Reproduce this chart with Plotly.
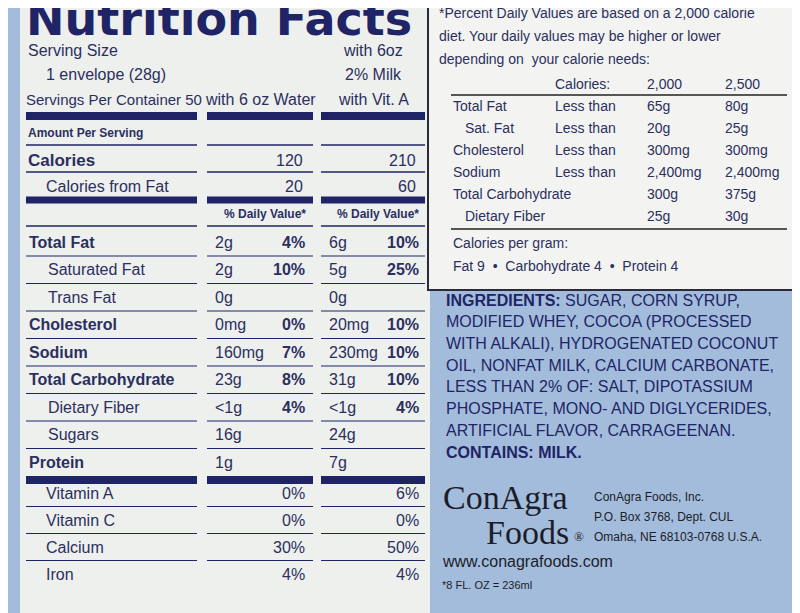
import plotly.graph_objects as go

NAVY = "#1f2466"
TXT = "#2b2f5e"
BG = "#a3bcdb"
PANEL = "#eef0ee"

# ---- data ----
nutrients = ["Total Fat", "Saturated Fat", "Trans Fat", "Cholesterol", "Sodium",
             "Total Carbohydrate", "Dietary Fiber", "Sugars", "Protein"]
nutrient_bold = [True, False, False, True, True, True, False, False, True]
nutrient_indent = [False, True, True, False, False, False, True, True, False]
water_amount = ["2g", "2g", "0g", "0mg", "160mg", "23g", "<1g", "16g", "1g"]
water_dv = ["4%", "10%", "", "0%", "7%", "8%", "4%", "", ""]
milk_amount = ["6g", "5g", "0g", "20mg", "230mg", "31g", "<1g", "24g", "7g"]
milk_dv = ["10%", "25%", "", "10%", "10%", "10%", "4%", "", ""]
vitamins = ["Vitamin A", "Vitamin C", "Calcium", "Iron"]
water_vit = ["0%", "0%", "30%", "4%"]
milk_vit = ["6%", "0%", "50%", "4%"]
calories = [120, 210]
calories_fat = [20, 60]

dv_labels = ["Total Fat", "Sat. Fat", "Cholesterol", "Sodium", "Total Carbohydrate", "Dietary Fiber"]
dv_indent = [False, True, False, False, False, True]
dv_qual = ["Less than", "Less than", "Less than", "Less than", "", ""]
dv_2000 = ["65g", "20g", "300mg", "2,400mg", "300g", "25g"]
dv_2500 = ["80g", "25g", "300mg", "2,400mg", "375g", "30g"]

ingredients = ["INGREDIENTS: SUGAR, CORN SYRUP,", "MODIFIED WHEY, COCOA (PROCESSED",
               "WITH ALKALI), HYDROGENATED COCONUT", "OIL, NONFAT MILK, CALCIUM CARBONATE,",
               "LESS THAN 2% OF: SALT, DIPOTASSIUM", "PHOSPHATE, MONO- AND DIGLYCERIDES,",
               "ARTIFICIAL FLAVOR, CARRAGEENAN."]

fig = go.Figure()
shapes, ann = [], []
F = "Liberation Sans, Arial, sans-serif"

def t(x, y, s, size=16, bold=False, anchor="left", color=TXT, font=F):
    if not s:
        return
    if bold:
        s = "<b>" + s + "</b>"
    ann.append(dict(x=x, y=y, text=s, showarrow=False, xanchor=anchor, yanchor="middle",
                    font=dict(size=size, color=color, family=font)))

def rect(x0, y0, x1, y1, fill, line=None, w=0):
    shapes.append(dict(type="rect", x0=x0, y0=y0, x1=x1, y1=y1, fillcolor=fill,
                       line=dict(color=line or fill, width=w), layer="below"))

COLS = [(26, 197), (207, 313), (321, 425)]

def hline(y, thick=1.5):
    for a, b in COLS:
        if thick > 3:
            rect(a, y - thick / 2, b, y + thick / 2, NAVY)
        else:
            shapes.append(dict(type="line", x0=a, x1=b, y0=y, y1=y, line=dict(color=NAVY, width=thick)))

S = 16
rect(20, -5, 430, 620, PANEL)
rect(428, -5, 796, 290, "#f3f4f2", "#2a2a3a", 2)

t(24, 19, "Nutrition Facts", 46, True, color=NAVY, font="DejaVu Sans, sans-serif")
t(26, 50, "Serving Size", S)
t(44, 74, "1 envelope (28g)", S)
t(24, 99, "Servings Per Container 50", 15)
t(260, 99, "with 6 oz Water", S, anchor="center")
t(373, 50, "with 6oz", S, anchor="center")
t(373, 74, "2% Milk", S, anchor="center")
t(373, 99, "with Vit. A", S, anchor="center")
hline(116, 8)
t(26, 133, "Amount Per Serving", 12, True)
hline(145, 1.5)
t(26, 160, "Calories", 17, True)
t(305, 160, str(calories[0]), S, anchor="right")
t(418, 160, str(calories[1]), S, anchor="right")
hline(172, 1.5)
t(44, 186, "Calories from Fat", S)
t(305, 186, str(calories_fat[0]), S, anchor="right")
t(418, 186, str(calories_fat[1]), S, anchor="right")
hline(200, 7)
t(308, 214, "% Daily Value*", 12, True, anchor="right")
t(421, 214, "% Daily Value*", 12, True, anchor="right")
hline(226, 1.5)

y0, dy = 242, 27.5
for i, n in enumerate(nutrients):
    y = y0 + i * dy
    t(46 if nutrient_indent[i] else 27, y, n, S, nutrient_bold[i])
    t(213, y, water_amount[i], S)
    t(307, y, water_dv[i], S, True, anchor="right")
    t(327, y, milk_amount[i], S)
    t(421, y, milk_dv[i], S, True, anchor="right")
    if i < len(nutrients) - 1:
        hline(y + 14, 1.2)
hline(480, 8)
for i, v in enumerate(vitamins):
    y = 493 + i * 27
    t(44, y, v, S)
    t(307, y, water_vit[i], S, anchor="right")
    t(421, y, milk_vit[i], S, anchor="right")
    if i < len(vitamins) - 1:
        hline(y + 13.5, 1.2)

R = 14
t(437, 13, "*Percent Daily Values are based on a 2,000 calorie", R)
t(437, 36, "diet. Your daily values may be higher or lower", R)
t(437, 59, "depending on  your calorie needs:", R)
t(553, 84, "Calories:", R)
t(645, 84, "2,000", R)
t(723, 84, "2,500", R)
shapes.append(dict(type="line", x0=451, x1=787, y0=95, y1=95, line=dict(color="#222", width=1.5)))
for i, lab in enumerate(dv_labels):
    y = 106 + i * 22
    t(463 if dv_indent[i] else 451, y, lab, R)
    t(553, y, dv_qual[i], R)
    t(645, y, dv_2000[i], R)
    t(723, y, dv_2500[i], R)
shapes.append(dict(type="line", x0=451, x1=787, y0=229, y1=229, line=dict(color="#222", width=1.5)))
t(451, 243, "Calories per gram:", R)
t(451, 266, "Fat 9  \u2022  Carbohydrate 4  \u2022  Protein 4", R)

IS = 16
for i, line in enumerate(ingredients):
    y = 300 + i * 21.7
    if i == 0:
        t(444, y, "<b>INGREDIENTS:</b> SUGAR, CORN SYRUP,", IS, color=NAVY)
    else:
        t(444, y, line, IS, color=NAVY)
t(444, 452, "CONTAINS: MILK.", IS, True, color=NAVY)

SER = "Liberation Serif, Times New Roman, serif"
t(441, 497, "ConAgra", 34, font=SER, color="#1c1c2a")
t(484, 532, "Foods", 34, font=SER, color="#1c1c2a")
t(572, 536, "®", 13, font=SER, color="#1c1c2a")
t(592, 497, "ConAgra Foods, Inc.", 12, color="#1c1c2a")
t(592, 517, "P.O. Box 3768, Dept. CUL", 12, color="#1c1c2a")
t(592, 537, "Omaha, NE 68103-0768 U.S.A.", 12, color="#1c1c2a")
t(440, 561, "www.conagrafoods.com", 16, color="#1c1c2a")
t(440, 585, "*8 FL. OZ = 236ml", 11, color="#1c1c2a")

fig.update_layout(width=800, height=613, margin=dict(l=0, r=0, t=0, b=0),
                  paper_bgcolor=BG, plot_bgcolor=BG, shapes=shapes, annotations=ann,
                  xaxis=dict(range=[8, 808], visible=False, fixedrange=True),
                  yaxis=dict(range=[621, 8], visible=False, fixedrange=True),
                  showlegend=False)
fig.write_html("out.html")
